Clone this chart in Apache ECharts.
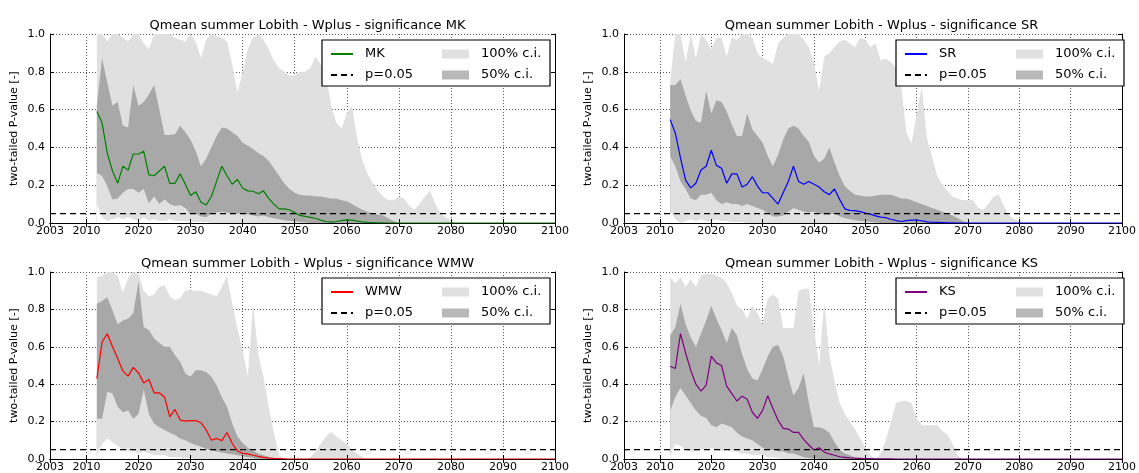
<!DOCTYPE html>
<html>
<head>
<meta charset="utf-8">
<script src="https://cdn.jsdelivr.net/npm/echarts@6/dist/echarts.min.js"></script>
<style>
html, body { margin: 0; padding: 0; background: #fff; }
#chart { width: 1139px; height: 473px; }
</style>
</head>
<body>
<div id="chart"></div>
<script>
// ---- data, yearly values starting at firstYear ----
const firstYear = 2012;
const xTickYears = [2003, 2010, 2020, 2030, 2040, 2050, 2060, 2070, 2080, 2090, 2100];
const pThreshold = 0.05;
const testNames = ['MK', 'SR', 'WMW', 'KS'];

// MK
const mkP = [0.59, 0.53, 0.37, 0.275, 0.21, 0.30, 0.28, 0.365, 0.365, 0.38,
  0.255, 0.25, 0.275, 0.30, 0.21, 0.21, 0.26, 0.205, 0.145, 0.165,
  0.11, 0.095, 0.14, 0.22, 0.30, 0.25, 0.205, 0.23, 0.185, 0.17,
  0.168, 0.155, 0.17, 0.13, 0.10, 0.075, 0.075, 0.07, 0.055, 0.04,
  0.035, 0.03, 0.025, 0.015, 0.008, 0.005, 0.008, 0.013, 0.017, 0.015,
  0.01, 0.006, 0.003, 0.002, 0.001, 0.001, 0, 0, 0, 0,
  0, 0, 0, 0, 0, 0, 0, 0, 0, 0,
  0, 0, 0, 0, 0, 0, 0, 0, 0, 0,
  0, 0, 0, 0, 0, 0, 0, 0, 0];
const mkCi50Hi = [0.62, 0.87, 0.745, 0.62, 0.64, 0.515, 0.505, 0.73, 0.62, 0.64,
  0.68, 0.73, 0.60, 0.465, 0.465, 0.47, 0.515, 0.48, 0.44, 0.38,
  0.30, 0.34, 0.40, 0.46, 0.505, 0.50, 0.48, 0.46, 0.425, 0.41,
  0.39, 0.37, 0.355, 0.33, 0.29, 0.25, 0.21, 0.18, 0.16, 0.15,
  0.145, 0.145, 0.14, 0.14, 0.135, 0.13, 0.13, 0.12, 0.115, 0.10,
  0.085, 0.07, 0.06, 0.05, 0.045, 0.04, 0.025, 0.01, 0];
const mkCi50Lo = [0.265, 0.25, 0.195, 0.125, 0.13, 0.16, 0.18, 0.18, 0.16, 0.18,
  0.105, 0.14, 0.10, 0.125, 0.10, 0.09, 0.095, 0.08, 0.045, 0.05,
  0.035, 0.03, 0.05, 0.055, 0.06, 0.055, 0.05, 0.05, 0.05, 0.045,
  0.04, 0.035, 0.04, 0.03, 0.025, 0.02, 0.015, 0.01, 0.01, 0.005,
  0.003, 0, 0, 0, 0, 0, 0, 0, 0, 0,
  0, 0, 0, 0, 0, 0, 0, 0, 0];
const mkCi100Hi = [1.0, 1.0, 0.96, 1.0, 1.0, 0.98, 0.96, 1.0, 1.0, 0.95,
  0.92, 1.0, 1.0, 1.0, 1.0, 0.98, 0.97, 0.96, 1.0, 0.96,
  0.87, 0.97, 1.0, 0.99, 0.98, 0.96, 0.84, 0.69, 0.80, 0.92,
  0.98, 1.0, 0.97, 0.92, 0.86, 0.82, 0.80, 0.78, 0.78, 0.80,
  0.80, 0.82, 0.88, 0.84, 0.80, 0.62, 0.53, 0.50, 0.58, 0.62,
  0.45, 0.33, 0.26, 0.21, 0.17, 0.14, 0.12, 0.12, 0.14, 0.13,
  0.09, 0.07, 0.10, 0.14, 0.17, 0.10, 0.05, 0.03, 0.01, 0];
const mkCi100Lo = [0.10, 0.03, 0.01, 0.02, 0.03, 0.02, 0.03, 0.02, 0.01, 0.03,
  0.01, 0.02, 0.01, 0.01, 0.02, 0.01, 0.01, 0.01, 0.005, 0.005,
  0.005, 0.005, 0, 0, 0, 0, 0, 0, 0, 0,
  0, 0, 0, 0, 0, 0, 0, 0, 0, 0,
  0, 0, 0, 0, 0, 0, 0, 0, 0, 0,
  0, 0, 0, 0, 0, 0, 0, 0, 0, 0,
  0, 0, 0, 0, 0, 0, 0, 0, 0, 0];

// SR
const srP = [0.547, 0.475, 0.345, 0.227, 0.186, 0.21, 0.28, 0.30, 0.385, 0.305,
  0.29, 0.21, 0.26, 0.26, 0.19, 0.205, 0.245, 0.195, 0.16, 0.16,
  0.13, 0.10, 0.16, 0.22, 0.30, 0.22, 0.205, 0.22, 0.205, 0.19,
  0.165, 0.15, 0.18, 0.125, 0.075, 0.067, 0.065, 0.06, 0.052, 0.047,
  0.038, 0.031, 0.028, 0.02, 0.013, 0.008, 0.013, 0.015, 0.015, 0.012,
  0.006, 0.004, 0.003, 0.002, 0.001, 0.001, 0, 0, 0, 0,
  0, 0, 0, 0, 0, 0, 0, 0, 0, 0,
  0, 0, 0, 0, 0, 0, 0, 0, 0, 0,
  0, 0, 0, 0, 0, 0, 0, 0, 0];
const srCi50Hi = [0.73, 0.73, 0.76, 0.675, 0.595, 0.54, 0.53, 0.70, 0.58, 0.65,
  0.64, 0.59, 0.52, 0.46, 0.46, 0.58, 0.495, 0.46, 0.425, 0.355,
  0.30, 0.36, 0.44, 0.50, 0.515, 0.50, 0.46, 0.43, 0.355, 0.32,
  0.34, 0.40, 0.32, 0.25, 0.195, 0.17, 0.15, 0.145, 0.14, 0.14,
  0.145, 0.15, 0.15, 0.15, 0.14, 0.13, 0.13, 0.12, 0.11, 0.10,
  0.09, 0.08, 0.07, 0.06, 0.05, 0.04, 0.025, 0.01, 0];
const srCi50Lo = [0.355, 0.30, 0.22, 0.18, 0.13, 0.12, 0.15, 0.15, 0.16, 0.12,
  0.10, 0.11, 0.10, 0.10, 0.09, 0.10, 0.09, 0.08, 0.07, 0.05,
  0.035, 0.035, 0.04, 0.06, 0.08, 0.07, 0.06, 0.055, 0.06, 0.05,
  0.045, 0.045, 0.05, 0.035, 0.025, 0.02, 0.015, 0.01, 0.01, 0.005,
  0.003, 0, 0, 0, 0, 0, 0, 0, 0, 0,
  0, 0, 0, 0, 0, 0, 0, 0, 0];
const srCi100Hi = [0.75, 1.0, 1.0, 0.85, 1.0, 0.87, 1.0, 0.97, 0.92, 0.98,
  0.98, 0.88, 0.98, 0.97, 1.0, 1.0, 0.98, 0.90, 0.87, 0.86,
  0.84, 0.95, 0.98, 1.0, 1.0, 1.0, 0.97, 0.93, 0.85, 0.70,
  0.88, 0.90, 0.93, 0.96, 0.97, 0.95, 0.93, 0.98, 0.97, 0.93,
  0.95, 0.86, 0.87, 0.85, 0.82, 0.72, 0.48, 0.42, 0.58, 0.72,
  0.45, 0.35, 0.25, 0.20, 0.17, 0.14, 0.13, 0.12, 0.12, 0.12,
  0.08, 0.07, 0.10, 0.14, 0.15, 0.09, 0.04, 0.02, 0.01, 0];
const srCi100Lo = [0.06, 0.02, 0, 0.01, 0.02, 0.01, 0.02, 0.01, 0.01, 0.02,
  0.01, 0.01, 0.005, 0.005, 0.005, 0, 0, 0, 0, 0,
  0, 0, 0, 0, 0, 0, 0, 0, 0, 0,
  0, 0, 0, 0, 0, 0, 0, 0, 0, 0,
  0, 0, 0, 0, 0, 0, 0, 0, 0, 0,
  0, 0, 0, 0, 0, 0, 0, 0, 0, 0,
  0, 0, 0, 0, 0, 0, 0, 0, 0, 0];

// WMW
const wmwP = [0.43, 0.625, 0.67, 0.60, 0.537, 0.47, 0.443, 0.49, 0.46, 0.407,
  0.425, 0.354, 0.354, 0.332, 0.225, 0.265, 0.208, 0.203, 0.205, 0.205,
  0.194, 0.155, 0.10, 0.11, 0.098, 0.142, 0.083, 0.043, 0.03, 0.027,
  0.02, 0.014, 0.009, 0.005, 0.003, 0.002, 0.001, 0, 0, 0,
  0, 0, 0, 0, 0, 0, 0, 0, 0, 0,
  0, 0, 0, 0, 0, 0, 0, 0, 0, 0,
  0, 0, 0, 0, 0, 0, 0, 0, 0, 0,
  0, 0, 0, 0, 0, 0, 0, 0, 0, 0,
  0, 0, 0, 0, 0, 0, 0, 0, 0];
const wmwCi50Hi = [0.83, 0.845, 0.865, 0.795, 0.72, 0.74, 0.75, 0.78, 0.95, 0.705,
  0.69, 0.645, 0.62, 0.60, 0.60, 0.555, 0.52, 0.457, 0.44, 0.475,
  0.475, 0.465, 0.44, 0.395, 0.33, 0.28, 0.19, 0.12, 0.085, 0.06,
  0.045, 0.03, 0.02, 0.012, 0.005, 0];
const wmwCi50Lo = [0.215, 0.215, 0.36, 0.35, 0.28, 0.25, 0.26, 0.215, 0.24, 0.37,
  0.24, 0.19, 0.17, 0.155, 0.14, 0.128, 0.11, 0.10, 0.085, 0.075,
  0.065, 0.055, 0.045, 0.04, 0.035, 0.03, 0.025, 0.02, 0.015, 0.01,
  0.005, 0, 0, 0, 0, 0];
const wmwCi100Hi = [0.97, 0.98, 1.0, 1.0, 0.98, 0.89, 0.97, 1.0, 0.99, 0.90,
  0.87, 0.88, 0.92, 0.93, 0.87, 0.85, 0.86, 0.90, 0.90, 0.90,
  0.90, 0.89, 0.88, 0.87, 0.92, 0.98, 0.83, 0.70, 0.58, 0.44,
  0.83, 0.56, 0.44, 0.28, 0.14, 0.02, 0, 0, 0, 0,
  0, 0.01, 0.04, 0.08, 0.12, 0.145, 0.12, 0.10, 0.08, 0.05,
  0.03, 0.01, 0];
const wmwCi100Lo = [0.02, 0.08, 0.11, 0.09, 0.07, 0.05, 0.04, 0.04, 0.03, 0.04,
  0.03, 0.02, 0.02, 0.02, 0.01, 0.01, 0.01, 0.005, 0.005, 0,
  0, 0, 0, 0, 0, 0, 0, 0, 0, 0,
  0, 0, 0, 0, 0, 0, 0, 0, 0, 0,
  0, 0, 0, 0, 0, 0, 0, 0, 0, 0,
  0, 0, 0];

// KS
const ksP = [0.496, 0.484, 0.67, 0.567, 0.475, 0.40, 0.363, 0.395, 0.55, 0.514,
  0.50, 0.39, 0.35, 0.31, 0.336, 0.32, 0.25, 0.217, 0.26, 0.338,
  0.27, 0.208, 0.164, 0.16, 0.142, 0.142, 0.105, 0.075, 0.048, 0.06,
  0.037, 0.027, 0.02, 0.012, 0.009, 0.006, 0.004, 0.003, 0.002, 0.002,
  0.001, 0.001, 0.001, 0.001, 0, 0, 0, 0, 0, 0,
  0, 0, 0, 0, 0, 0, 0, 0, 0, 0,
  0, 0, 0, 0, 0, 0, 0, 0, 0, 0,
  0, 0, 0, 0, 0, 0, 0, 0, 0, 0,
  0, 0, 0, 0, 0, 0, 0, 0, 0];
const ksCi50Hi = [0.66, 0.705, 0.83, 0.72, 0.65, 0.60, 0.67, 0.74, 0.82, 0.75,
  0.69, 0.62, 0.70, 0.66, 0.56, 0.48, 0.43, 0.42, 0.48, 0.55,
  0.60, 0.61, 0.55, 0.44, 0.34, 0.38, 0.46, 0.30, 0.17, 0.17,
  0.16, 0.14, 0.09, 0.05, 0.03, 0.02, 0.01, 0.005, 0];
const ksCi50Lo = [0.26, 0.33, 0.38, 0.34, 0.30, 0.26, 0.23, 0.22, 0.18, 0.17,
  0.19, 0.18, 0.17, 0.14, 0.12, 0.11, 0.10, 0.08, 0.06, 0.05,
  0.05, 0.04, 0.04, 0.03, 0.03, 0.02, 0.01, 0.005, 0.003, 0,
  0, 0, 0, 0, 0, 0, 0, 0, 0];
const ksCi100Hi = [0.97, 0.94, 0.97, 0.92, 0.96, 0.92, 0.98, 0.99, 0.99, 0.98,
  0.97, 0.94, 0.89, 0.82, 0.80, 0.75, 0.82, 0.78, 0.72, 0.86,
  0.88, 0.86, 0.70, 0.70, 0.70, 0.90, 0.91, 0.91, 0.70, 0.50,
  0.84, 0.55, 0.42, 0.30, 0.24, 0.20, 0.16, 0.11, 0.06, 0.02,
  0, 0.03, 0.10, 0.20, 0.30, 0.31, 0.31, 0.30, 0.22, 0.18,
  0.18, 0.18, 0.18, 0.15, 0.13, 0.08, 0.02, 0];
const ksCi100Lo = [0.02, 0.08, 0.07, 0.05, 0.04, 0.04, 0.05, 0.05, 0.06, 0.05,
  0.04, 0.05, 0.04, 0.04, 0.03, 0.03, 0.02, 0.02, 0.02, 0.01,
  0.01, 0.005, 0, 0, 0, 0, 0, 0, 0, 0,
  0, 0, 0, 0, 0, 0, 0, 0, 0, 0,
  0, 0, 0, 0, 0, 0, 0, 0, 0, 0,
  0, 0, 0, 0, 0, 0, 0, 0];

// ---- layout / styles ----
const fontFam = 'DejaVu Sans';
const lineColors = ['#008000', '#0000ff', '#ff0000', '#800080'];
const ci100Color = '#e0e0e0';
const ci50Color = '#a8a8a8';
const ci50Legend = '#b8b8b8';
const gridPos = [[50, 34], [624, 34], [50, 272], [624, 272]];
const gridW = 505, gridH = 189;

const panelData = [
  [mkP, mkCi100Lo, mkCi100Hi, mkCi50Lo, mkCi50Hi],
  [srP, srCi100Lo, srCi100Hi, srCi50Lo, srCi50Hi],
  [wmwP, wmwCi100Lo, wmwCi100Hi, wmwCi50Lo, wmwCi50Hi],
  [ksP, ksCi100Lo, ksCi100Hi, ksCi50Lo, ksCi50Hi]
];

function toPairs(arr) {
  return arr.map(function (v, i) { return [firstYear + i, v]; });
}

let grid = [], xAxis = [], yAxis = [], series = [], title = [], legend = [], graphic = [];
const blackLine = { color: '#000', width: 1 };
const dotted = { color: '#555', type: [1, 2], width: 1 };

for (let k = 0; k < 4; k++) {
  let gl = gridPos[k][0], gt = gridPos[k][1];
  let gr = gl + gridW;
  let d = panelData[k];
  let name = testNames[k];

  grid.push({ left: gl, top: gt, width: gridW, height: gridH });

  title.push({
    text: 'Qmean summer Lobith - Wplus - significance ' + name,
    left: gl + gridW / 2, top: gt - 20, textAlign: 'center',
    textStyle: { fontFamily: fontFam, fontSize: 13, fontWeight: 'normal', color: '#000' }
  });

  // bottom + top x axes (drawn over the bands, like the dotted grid of the original)
  xAxis.push({
    gridIndex: k, type: 'value', min: 2003, max: 2100, position: 'bottom', z: 3,
    axisLine: { lineStyle: blackLine },
    axisTick: { inside: true, length: 4, customValues: xTickYears, lineStyle: blackLine },
    axisLabel: { customValues: xTickYears, fontFamily: fontFam, fontSize: 11, color: '#000', margin: 3,
      formatter: function (v) { return String(v); } },
    splitLine: { show: true, lineStyle: dotted }
  });
  xAxis.push({
    gridIndex: k, type: 'value', min: 2003, max: 2100, position: 'top', z: 3,
    axisLine: { lineStyle: blackLine },
    axisTick: { inside: true, length: 4, customValues: xTickYears, lineStyle: blackLine },
    axisLabel: { show: false }, splitLine: { show: false }
  });
  // left + right y axes
  yAxis.push({
    gridIndex: k, type: 'value', min: 0, max: 1, interval: 0.2, position: 'left', z: 3,
    name: 'two-tailed P-value [-]', nameLocation: 'middle', nameGap: 30,
    nameTextStyle: { fontFamily: fontFam, fontSize: 11, color: '#000' },
    axisLine: { show: true, lineStyle: blackLine },
    axisTick: { show: true, inside: true, length: 4, lineStyle: blackLine },
    axisLabel: { fontFamily: fontFam, fontSize: 11, color: '#000', margin: 5,
      formatter: function (v) { return v.toFixed(1); } },
    splitLine: { show: true, lineStyle: dotted }
  });
  yAxis.push({
    gridIndex: k, type: 'value', min: 0, max: 1, interval: 0.2, position: 'right', z: 3,
    axisLine: { show: true, lineStyle: blackLine },
    axisTick: { show: true, inside: true, length: 4, lineStyle: blackLine },
    axisLabel: { show: false }, splitLine: { show: false }
  });

  let xi = 2 * k, yi = 2 * k;
  let common = { type: 'line', xAxisIndex: xi, yAxisIndex: yi, symbol: 'none', showSymbol: false,
    silent: true, animation: false };
  let noLine = { width: 0, opacity: 0 };

  // bands: painted from the top bound down to 0, then covered by the next layer
  series.push(Object.assign({}, common, {
    name: '100% c.i.', data: toPairs(d[2]),
    itemStyle: { color: ci100Color }, lineStyle: noLine,
    areaStyle: { color: ci100Color, opacity: 1, origin: 'start' }
  }));
  series.push(Object.assign({}, common, {
    name: '50% c.i.', data: toPairs(d[4]),
    itemStyle: { color: ci50Color }, lineStyle: noLine,
    areaStyle: { color: ci50Color, opacity: 1, origin: 'start' }
  }));
  series.push(Object.assign({}, common, {
    name: 'lo50_' + k, data: toPairs(d[3]),
    itemStyle: { color: ci100Color }, lineStyle: noLine,
    areaStyle: { color: ci100Color, opacity: 1, origin: 'start' }
  }));
  series.push(Object.assign({}, common, {
    name: 'lo100_' + k, data: toPairs(d[1]),
    itemStyle: { color: '#fff' }, lineStyle: noLine,
    areaStyle: { color: '#fff', opacity: 1, origin: 'start' }
  }));
  // test p-value line
  series.push(Object.assign({}, common, {
    name: name, data: toPairs(d[0]),
    itemStyle: { color: lineColors[k] }, lineStyle: { color: lineColors[k], width: 1.2 }
  }));
  // p = 0.05
  series.push(Object.assign({}, common, {
    name: 'p=0.05', data: [[2003, pThreshold], [2100, pThreshold]],
    itemStyle: { color: '#000' }, lineStyle: { color: '#000', width: 1.3, type: [6, 4] }
  }));

  // legend box
  graphic.push({
    type: 'rect', z: 4,
    shape: { x: gr - 233, y: gt + 6, width: 228, height: 46 },
    style: { fill: '#fff', stroke: '#000', lineWidth: 1.2 }
  });
  let legendText = { fontFamily: fontFam, fontSize: 13, color: '#000', lineHeight: 16, padding: [0, 0, 0, 7] };
  legend.push({
    orient: 'vertical', left: gr - 225, top: gt + 12, z: 5, padding: 0,
    itemWidth: 22, itemHeight: 9, itemGap: 5, selectedMode: false,
    textStyle: legendText,
    data: [
      { name: name, itemStyle: { opacity: 0 } },
      { name: 'p=0.05', itemStyle: { opacity: 0 } }
    ]
  });
  legend.push({
    orient: 'vertical', left: gr - 113, top: gt + 12, z: 5, padding: 0,
    itemWidth: 27, itemHeight: 9, itemGap: 5, selectedMode: false,
    textStyle: legendText,
    data: [
      { name: '100% c.i.', icon: 'rect', itemStyle: { color: ci100Color } },
      { name: '50% c.i.', icon: 'rect', itemStyle: { color: ci50Legend } }
    ]
  });
}

let myChart = echarts.init(document.getElementById('chart'));
myChart.setOption({
  animation: false,
  backgroundColor: '#fff',
  title: title,
  legend: legend,
  grid: grid,
  xAxis: xAxis,
  yAxis: yAxis,
  graphic: graphic,
  series: series
});
</script>
</body>
</html>
